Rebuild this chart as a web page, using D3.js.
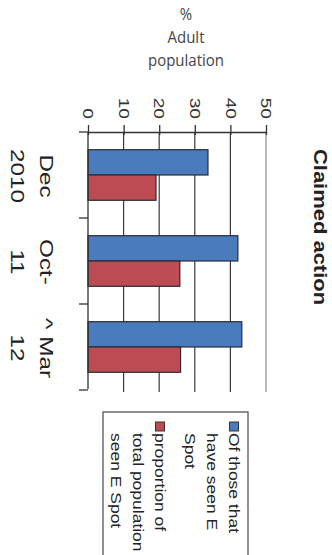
<!DOCTYPE html>
<html>
<head>
<meta charset="utf-8">
<script src="https://cdn.jsdelivr.net/npm/d3@7"></script>
<style>
  html, body { margin: 0; padding: 0; background: #fff; }
  svg { display: block; }
</style>
</head>
<body>
<script>
// ---- data ----
const categories = [["Dec", "2010"], ["Oct-", "11"], ["^ Mar", "12"]];
const seriesNames = ["seen", "total"];
const seenValues = [33.7, 42.1, 43.2];
const totalValues = [19.1, 25.8, 26.0];
const tickValues = [0, 10, 20, 30, 40, 50];
const legendLines = [["Of those that", "have seen E", "Spot"], ["proportion of", "total population", "seen E Spot"]];
const titleText = "Claimed action";
const unitLines = ["%", "Adult", "population"];

const colors = { seen: "#4a7cbd", total: "#bd4b53" };
const stretch = 1.28;

const W = 332, H = 555;
const svg = d3.select("body").append("svg").attr("width", W).attr("height", H);

const x = d3.scaleLinear().domain([0, 50]).range([88, 266]);
const catKeys = categories.map((c, i) => i);
const y = d3.scaleBand().domain(catKeys).range([132, 390]);
const y1 = d3.scaleBand().domain(seriesNames).range([0, y.bandwidth()]).paddingInner(0).paddingOuter(0.7);

const rows = catKeys.map(i => ({ i, seen: seenValues[i], total: totalValues[i] }));

// gridlines
svg.append("g").selectAll("line").data(tickValues.filter(t => t > 0)).join("line")
  .attr("x1", d => x(d)).attr("x2", d => x(d))
  .attr("y1", 132).attr("y2", 392)
  .attr("stroke", d => d === 50 ? "#8a8a8a" : "#3a3a3a")
  .attr("stroke-width", 1.2);

// bars
const groups = svg.append("g").selectAll("g").data(rows).join("g")
  .attr("transform", d => `translate(0,${y(d.i)})`);
groups.selectAll("rect").data(d => seriesNames.map(s => ({ s, v: d[s] }))).join("rect")
  .attr("x", x(0))
  .attr("y", d => y1(d.s))
  .attr("width", d => x(d.v) - x(0))
  .attr("height", y1.bandwidth())
  .attr("fill", d => colors[d.s])
  .attr("stroke", "#2a2a35")
  .attr("stroke-width", 1.2);

// value axis (top)
const axis = svg.append("g").attr("transform", "translate(0,132)")
  .call(d3.axisTop(x).tickValues(tickValues).tickSizeInner(7).tickSizeOuter(0));
axis.select(".domain").attr("stroke", "#333").attr("stroke-width", 1.3);
axis.selectAll(".tick line").attr("stroke", "#333").attr("stroke-width", 1.3).attr("y2", -7).attr("y1", 3);
axis.selectAll(".tick text")
  .attr("x", null).attr("y", null).attr("dy", "0.35em")
  .attr("text-anchor", "end")
  .attr("transform", `translate(0,-13) rotate(90) scale(${stretch},1)`)
  .attr("font-family", "Liberation Sans, Arial, sans-serif")
  .attr("font-size", 15)
  .attr("fill", "#333");

// category axis (left)
svg.append("line").attr("x1", x(0)).attr("x2", x(0)).attr("y1", 132).attr("y2", 389)
  .attr("stroke", "#333").attr("stroke-width", 1.3);
const bounds = catKeys.map(i => y(i)).concat([y(catKeys[catKeys.length - 1]) + y.bandwidth()]);
svg.append("g").selectAll("line").data(bounds).join("line")
  .attr("x1", x(0) - 9).attr("x2", x(0)).attr("y1", d => d).attr("y2", d => d)
  .attr("stroke", "#333").attr("stroke-width", 1.3);

// category labels
const catG = svg.append("g").selectAll("g").data(catKeys).join("g")
  .attr("transform", d => `translate(0,${y(d) + y.bandwidth() / 2 + 1})`);
catG.each(function (d) {
  const g = d3.select(this);
  categories[d].forEach((line, li) => {
    g.append("text")
      .attr("transform", `translate(${47 - li * 29},0) rotate(90) scale(${stretch},1)`)
      .attr("text-anchor", "middle").attr("dy", "0.35em")
      .attr("font-family", "Liberation Sans, Arial, sans-serif")
      .attr("font-size", 19).attr("fill", "#222")
      .text(line);
  });
});

// title
svg.append("text")
  .attr("transform", `translate(320,227) rotate(90) scale(1.22,1)`)
  .attr("text-anchor", "middle").attr("dy", "0.35em")
  .attr("font-family", "Liberation Sans, Arial, sans-serif")
  .attr("font-weight", "bold").attr("font-size", 18).attr("fill", "#222")
  .text(titleText);

// unit label
unitLines.forEach((t, i) => {
  svg.append("text")
    .attr("transform", `translate(186,${20 + i * 23}) scale(1,1.1)`)
    .attr("text-anchor", "middle")
    .attr("font-family", "Open Sans, sans-serif")
    .attr("font-size", 15).attr("fill", "#444")
    .text(t);
});

// legend
svg.append("rect").attr("x", 103).attr("y", 412).attr("width", 145).attr("height", 160)
  .attr("fill", "#fff").attr("stroke", "#555").attr("stroke-width", 1.3);
const legendX = [234, 160];
seriesNames.forEach((s, si) => {
  svg.append("rect").attr("x", legendX[si] - 4.5).attr("y", 422).attr("width", 9).attr("height", 9)
    .attr("fill", colors[s]).attr("stroke", "#333").attr("stroke-width", 1);
  legendLines[si].forEach((line, li) => {
    svg.append("text")
      .attr("transform", `translate(${legendX[si] - li * 22},433) rotate(90) scale(1.25,1)`)
      .attr("text-anchor", "start").attr("dy", "0.35em")
      .attr("font-family", "Liberation Sans, Arial, sans-serif")
      .attr("font-size", 14).attr("fill", "#222")
      .text(line);
  });
});
</script>
</body>
</html>
